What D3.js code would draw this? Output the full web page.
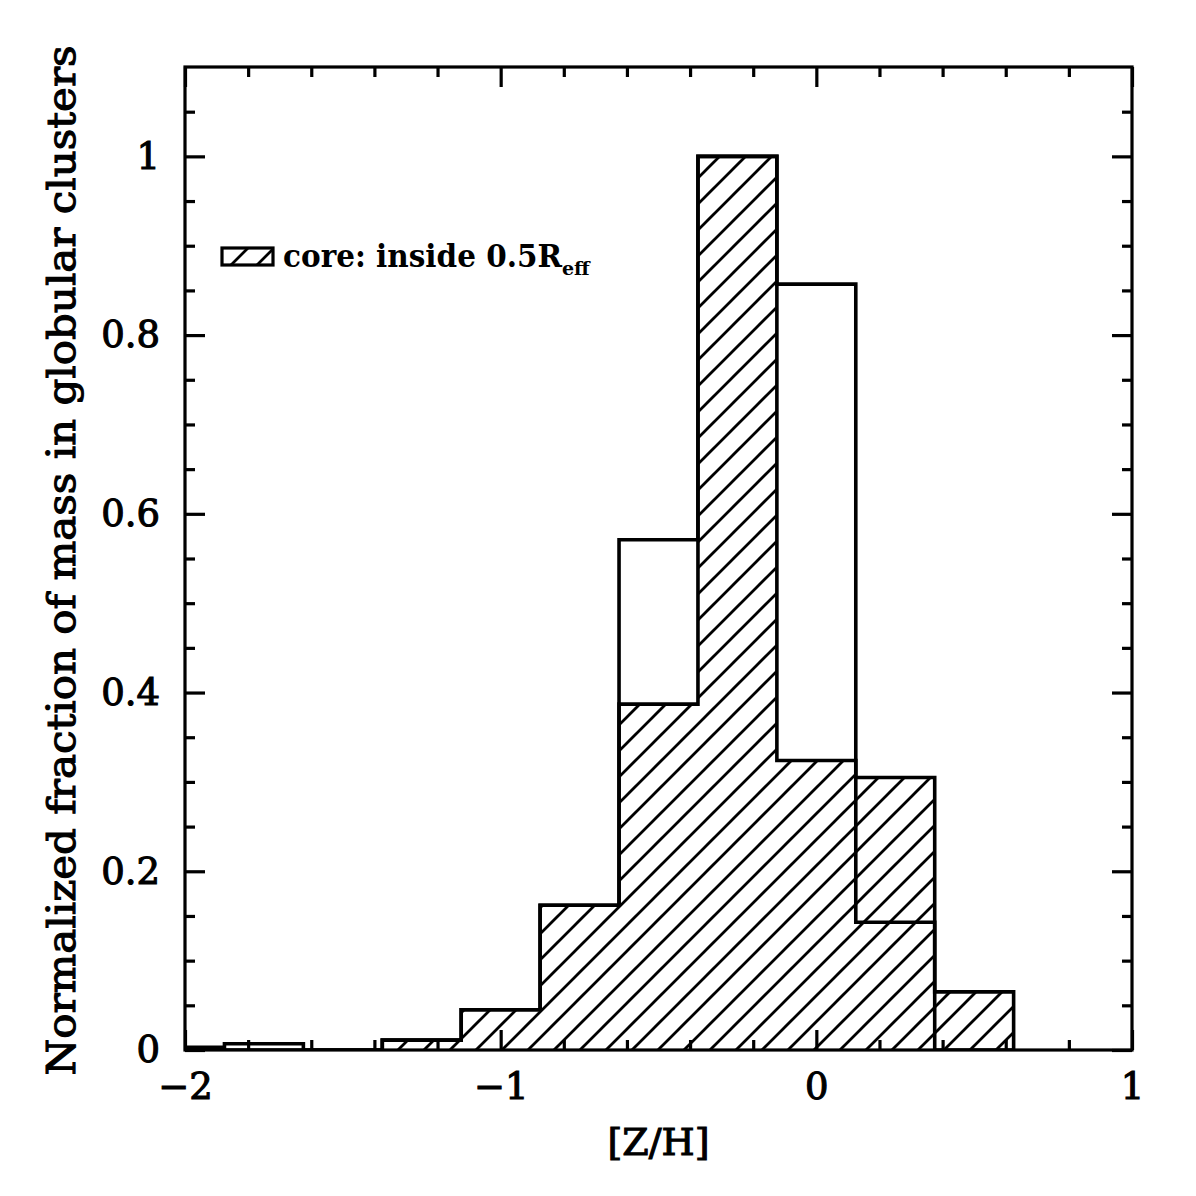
<!DOCTYPE html>
<html>
<head>
<meta charset="utf-8">
<script src="https://cdn.jsdelivr.net/npm/d3@7"></script>
<style>
  body { margin: 0; background: #fff; }
  svg { display: block; }
  text { font-family: "DejaVu Serif", serif; fill: #000; }
</style>
</head>
<body>
<svg id="chart"></svg>
<script>
// bin left edges of [Z/H], width 0.25
var binEdges = [-2.125, -1.875, -1.625, -1.375, -1.125, -0.875, -0.625, -0.375, -0.125, 0.125, 0.375, 0.625];
// all clusters (open outline)
var allValues = [0.003, 0.007, 0, 0.011, 0.045, 0.162, 0.571, 1.0, 0.857, 0.143, 0];
// core: inside 0.5 Reff (hatched)
var coreValues = [0, 0, 0, 0.011, 0.045, 0.162, 0.387, 1.0, 0.324, 0.305, 0.065];

var xMajor = [-2, -1, 0, 1];
var xMinor = [-1.8, -1.6, -1.4, -1.2, -0.8, -0.6, -0.4, -0.2, 0.2, 0.4, 0.6, 0.8];
var yMajor = [0, 0.2, 0.4, 0.6, 0.8, 1];
var yMinor = [0.05, 0.1, 0.15, 0.25, 0.3, 0.35, 0.45, 0.5, 0.55, 0.65, 0.7, 0.75, 0.85, 0.9, 0.95, 1.05];

var width = 1196, height = 1196;
var margin = {top: 67, right: 64, bottom: 146, left: 185};
var innerWidth = width - margin.left - margin.right,
    innerHeight = height - margin.top - margin.bottom;

var xScale = d3.scaleLinear().domain([-2, 1]).range([0, innerWidth]);
var yScale = d3.scaleLinear().domain([0, 1.1]).range([innerHeight, 0]);

var svg = d3.select("#chart").attr("width", width).attr("height", height);
var defs = svg.append("defs");

// hatch pattern, lines going up to the right
var hs = 26;
defs.append("pattern")
    .attr("id", "hatch")
    .attr("patternUnits", "userSpaceOnUse")
    .attr("width", hs).attr("height", hs)
  .append("path")
    .attr("d", "M-2,2 l4,-4 M0," + hs + " l" + hs + ",-" + hs + " M" + (hs - 2) + "," + (hs + 2) + " l4,-4")
    .attr("stroke", "#000").attr("stroke-width", 2.8);

defs.append("clipPath").attr("id", "plotclip")
  .append("rect").attr("width", innerWidth).attr("height", innerHeight);

var g = svg.append("g").attr("transform", "translate(" + margin.left + "," + margin.top + ")");
var plot = g.append("g").attr("clip-path", "url(#plotclip)");

function stepPoints(vals) {
  var pts = [{x: binEdges[0], y: 0}];
  vals.forEach(function (v, i) { pts.push({x: binEdges[i], y: v}); });
  pts.push({x: binEdges[vals.length], y: 0});
  return pts;
}

var line = d3.line().curve(d3.curveStepAfter)
    .x(function (d) { return xScale(d.x); })
    .y(function (d) { return yScale(d.y); });
var area = d3.area().curve(d3.curveStepAfter)
    .x(function (d) { return xScale(d.x); })
    .y0(yScale(0))
    .y1(function (d) { return yScale(d.y); });

plot.append("path").datum(stepPoints(coreValues))
    .attr("d", area).attr("fill", "url(#hatch)");
plot.append("path").datum(stepPoints(allValues))
    .attr("d", line).attr("fill", "none").attr("stroke", "#000").attr("stroke-width", 3.6);
plot.append("path").datum(stepPoints(coreValues))
    .attr("d", line).attr("fill", "none").attr("stroke", "#000").attr("stroke-width", 3.6);

// axes: ticks inward on all four sides
function fmtX(d) { return d < 0 ? "\u2212" + (-d) : String(d); }
function fmtY(d) { return String(+d.toFixed(2)); }

function styleAxis(sel) {
  sel.select(".domain").remove();
  sel.selectAll(".tick line").attr("stroke", "#000").attr("stroke-width", 3.2);
  sel.selectAll("text").filter(function () { return this.textContent === ""; }).remove();
  sel.selectAll("text").attr("font-size", 37).attr("fill", "#000")
     .attr("stroke", "#000").attr("stroke-width", 1.1)
     .attr("font-family", "DejaVu Serif, serif");
}

g.append("g").attr("transform", "translate(0," + innerHeight + ")")
  .call(d3.axisBottom(xScale).tickValues(xMajor).tickSize(-20).tickPadding(23).tickFormat(fmtX))
  .call(styleAxis);
g.append("g").attr("transform", "translate(0," + innerHeight + ")")
  .call(d3.axisBottom(xScale).tickValues(xMinor).tickSize(-10).tickFormat(""))
  .call(styleAxis);
g.append("g")
  .call(d3.axisTop(xScale).tickValues(xMajor).tickSize(-20).tickFormat(""))
  .call(styleAxis);
g.append("g")
  .call(d3.axisTop(xScale).tickValues(xMinor).tickSize(-10).tickFormat(""))
  .call(styleAxis);

g.append("g")
  .call(d3.axisLeft(yScale).tickValues(yMajor).tickSize(-20).tickPadding(25).tickFormat(fmtY))
  .call(styleAxis);
g.append("g")
  .call(d3.axisLeft(yScale).tickValues(yMinor).tickSize(-10).tickFormat(""))
  .call(styleAxis);
g.append("g").attr("transform", "translate(" + innerWidth + ",0)")
  .call(d3.axisRight(yScale).tickValues(yMajor).tickSize(-20).tickFormat(""))
  .call(styleAxis);
g.append("g").attr("transform", "translate(" + innerWidth + ",0)")
  .call(d3.axisRight(yScale).tickValues(yMinor).tickSize(-10).tickFormat(""))
  .call(styleAxis);

g.append("rect")
    .attr("width", innerWidth).attr("height", innerHeight)
    .attr("fill", "none").attr("stroke", "#000").attr("stroke-width", 3.2);

// axis titles
g.append("text")
    .attr("x", innerWidth / 2).attr("y", innerHeight + 105)
    .attr("text-anchor", "middle").attr("font-size", 38)
    .attr("stroke", "#000").attr("stroke-width", 1.1)
    .text("[Z/H]");

svg.append("text")
    .attr("transform", "translate(75," + (margin.top + innerHeight / 2 + 2) + ") rotate(-90)")
    .attr("text-anchor", "middle").attr("font-size", 40)
    .attr("stroke", "#000").attr("stroke-width", 1.1)
    .attr("textLength", 1030).attr("lengthAdjust", "spacingAndGlyphs")
    .text("Normalized fraction of mass in globular clusters");

// legend
var leg = g.append("g").attr("transform", "translate(" + (222 - margin.left) + "," + (248 - margin.top) + ")");
leg.append("rect").attr("width", 51).attr("height", 17)
    .attr("fill", "url(#hatch)").attr("stroke", "#000").attr("stroke-width", 3.2);
var lt = leg.append("text").attr("x", 61).attr("y", 19)
    .attr("font-size", 31).attr("font-weight", "bold");
lt.append("tspan").attr("textLength", 279).attr("lengthAdjust", "spacingAndGlyphs")
    .text("core:  inside  0.5R");
lt.append("tspan").attr("dy", 8).attr("font-size", 19).text("eff");
</script>
</body>
</html>
